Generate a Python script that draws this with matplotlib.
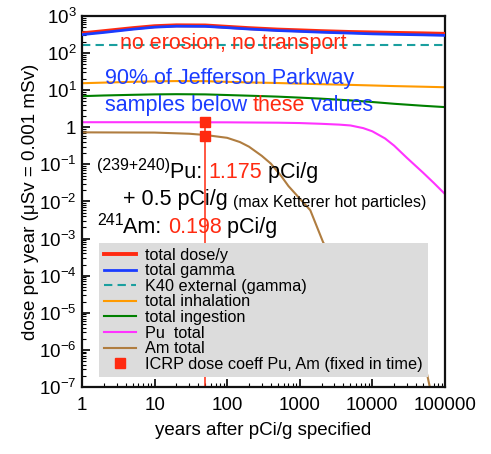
import numpy as np
import matplotlib
matplotlib.use("Agg")
import matplotlib.pyplot as plt
from matplotlib.ticker import FixedLocator, FixedFormatter, LogLocator, NullFormatter

plt.rcParams['font.family'] = ['Liberation Sans', 'DejaVu Sans']
plt.rcParams['mathtext.fontset'] = 'custom'
plt.rcParams['mathtext.rm'] = 'Liberation Sans'
plt.rcParams['mathtext.it'] = 'Liberation Sans'

# ---- data ----
years = np.array([1, 2, 5, 10, 20, 50, 100, 200, 500, 1000, 2000, 5000, 10000, 20000, 50000, 100000])
total_dose = np.array([340, 390, 470, 530, 560, 555, 510, 470, 430, 410, 390, 370, 360, 350, 340, 330])
total_gamma = np.array([315, 360, 440, 500, 530, 525, 485, 445, 405, 385, 365, 345, 330, 320, 310, 300])
k40 = np.full(years.shape, 170.0)
inhalation = np.array([15.4, 16.0, 16.8, 17.3, 17.6, 17.5, 16.8, 16.2, 15.6, 15.0, 14.5, 13.9, 13.4, 12.9, 12.4, 12.0])
ingestion = np.array([6.9, 7.2, 7.5, 7.7, 7.8, 7.7, 7.4, 7.1, 6.7, 6.3, 5.9, 5.3, 4.8, 4.3, 3.8, 3.5])

pu_years = np.array([1, 10, 100, 500, 1000, 2000, 3500, 5000, 7500, 10000, 15000, 20000, 30000, 50000, 70000, 100000])
pu_total = np.array([1.37, 1.37, 1.36, 1.33, 1.30, 1.24, 1.18, 1.12, 0.95, 0.78, 0.50, 0.32, 0.15, 0.06, 0.032, 0.016])

am_years = np.array([1, 10, 30, 50, 100, 150, 200, 300, 400, 550, 700, 1000, 1400, 2100, 5000, 10000, 30000, 52800, 62000, 80000])
am_total = np.array([0.73, 0.72, 0.67, 0.62, 0.52, 0.40, 0.30, 0.17, 0.105, 0.05, 0.026, 0.012, 0.0058, 8e-4, 5e-5, 1e-5, 2e-6, 4.4e-7, 1e-7, 1e-8])

icrp_year = 50
icrp_values = np.array([1.37, 0.60])

ytick_vals = [1e3, 1e2, 1e1, 1, 1e-1, 1e-2, 1e-3, 1e-4, 1e-5, 1e-6, 1e-7]
ytick_labels = [r'$10^{3}$', r'$10^{2}$', r'$10^{1}$', '1', r'$10^{-1}$', r'$10^{-2}$', r'$10^{-3}$',
                r'$10^{-4}$', r'$10^{-5}$', r'$10^{-6}$', r'$10^{-7}$']
xtick_vals = [1, 10, 100, 1000, 10000, 100000]
xtick_labels = ['1', '10', '100', '1000', '10000', '100000']

RED = '#ff2a10'
BLUE = '#1a3cff'

fig = plt.figure(figsize=(4.91, 4.54), dpi=100)
ax = fig.add_axes([0.167, 0.1476, 0.739, 0.8172])

ax.vlines(icrp_year, 1e-7, icrp_values.max(), color=RED, lw=1.1, zorder=2)
ax.plot(years, total_dose, color=RED, lw=2.8, label='total dose/y', zorder=3)
ax.plot(years, total_gamma, color=BLUE, lw=2.0, label='total gamma', zorder=3)
ax.plot(years, k40, color='#1a9f9f', lw=1.5, ls=(0, (4, 2.5)), label='K40 external (gamma)')
ax.plot(years, inhalation, color='#ff9a00', lw=1.5, label='total inhalation')
ax.plot(years, ingestion, color='#008000', lw=1.5, label='total ingestion')
ax.plot(pu_years, pu_total, color='#ff33ff', lw=1.5, label='Pu  total')
ax.plot(am_years, am_total, color='#b07d40', lw=1.5, label='Am total')
ax.plot(np.full(icrp_values.shape, icrp_year), icrp_values, 's', color=RED, ms=7.5, ls='none',
        label='ICRP dose coeff Pu, Am (fixed in time)', zorder=4)

ax.set_xscale('log')
ax.set_yscale('log')
ax.set_xlim(1, 1e5)
ax.set_ylim(1e-7, 1e3)

ax.yaxis.set_major_locator(FixedLocator(ytick_vals))
ax.yaxis.set_major_formatter(FixedFormatter(ytick_labels))
ax.yaxis.set_minor_locator(LogLocator(base=10, subs=np.arange(2, 10), numticks=30))
ax.yaxis.set_minor_formatter(NullFormatter())
ax.xaxis.set_major_locator(FixedLocator(xtick_vals))
ax.xaxis.set_major_formatter(FixedFormatter(xtick_labels))
ax.xaxis.set_minor_locator(LogLocator(base=10, subs=np.arange(2, 10), numticks=30))
ax.xaxis.set_minor_formatter(NullFormatter())

ax.tick_params(which='both', direction='in', top=False, right=False, labelsize=13.5, colors='black')
ax.tick_params(axis='x', which='major', pad=7)
ax.tick_params(axis='y', which='major', pad=4)
ax.tick_params(which='major', length=5.5, width=1.2)
ax.tick_params(which='minor', length=3, width=0.8)
for s in ax.spines.values():
    s.set_linewidth(1.6)
    s.set_color('#111111')

ax.set_xlabel('years after pCi/g specified', fontsize=13.5, labelpad=6)
ax.set_ylabel('dose per year (μSv = 0.001 mSv)', fontsize=13.5, labelpad=0)

leg = ax.legend(loc='lower left', bbox_to_anchor=(0.047, 0.027), fontsize=11.7, frameon=True,
                fancybox=False, framealpha=1, facecolor='#dcdcdc', edgecolor='none',
                handlelength=2.0, handletextpad=0.55, labelspacing=0.04, borderpad=0.3,
                borderaxespad=0)
leg.set_zorder(5)


def chain(pieces, x, y):
    """Write coloured pieces one after another, starting at axes fraction (x, y)."""
    prev = None
    prev_dy = 0
    for text, color, size, dy in pieces:
        if prev is None:
            prev = ax.annotate(text, xy=(x, y), xycoords='axes fraction', xytext=(0, dy),
                               textcoords='offset points', color=color, fontsize=size,
                               va='bottom', ha='left', zorder=6)
        else:
            prev = ax.annotate(text, xy=(1, 0), xycoords=prev, xytext=(0, dy - prev_dy),
                               textcoords='offset points', color=color, fontsize=size,
                               va='bottom', ha='left', zorder=6)
        prev_dy = dy


chain([('no erosion, no transport', RED, 15.5, 0)], 0.105, 0.898)
chain([('90% of Jefferson Parkway', BLUE, 15.5, 0)], 0.063, 0.803)
chain([('samples below ', BLUE, 15.5, 0), ('these', RED, 15.5, 0), (' values', BLUE, 15.5, 0)], 0.063, 0.73)

chain([('(239+240)', 'black', 11.5, 7), ('Pu: ', 'black', 15.5, 0), ('1.175', RED, 15.5, 0),
       (' pCi/g', 'black', 15.5, 0)], 0.041, 0.551)
chain([('+ 0.5 pCi/g ', 'black', 15.5, 0), ('(max Ketterer hot particles)', 'black', 11.5, 0)], 0.112, 0.478)
chain([('241', 'black', 11.5, 7), ('Am: ', 'black', 15.5, 0), ('0.198', RED, 15.5, 0),
       (' pCi/g', 'black', 15.5, 0)], 0.041, 0.401)

fig.savefig('out.png', dpi=100)
